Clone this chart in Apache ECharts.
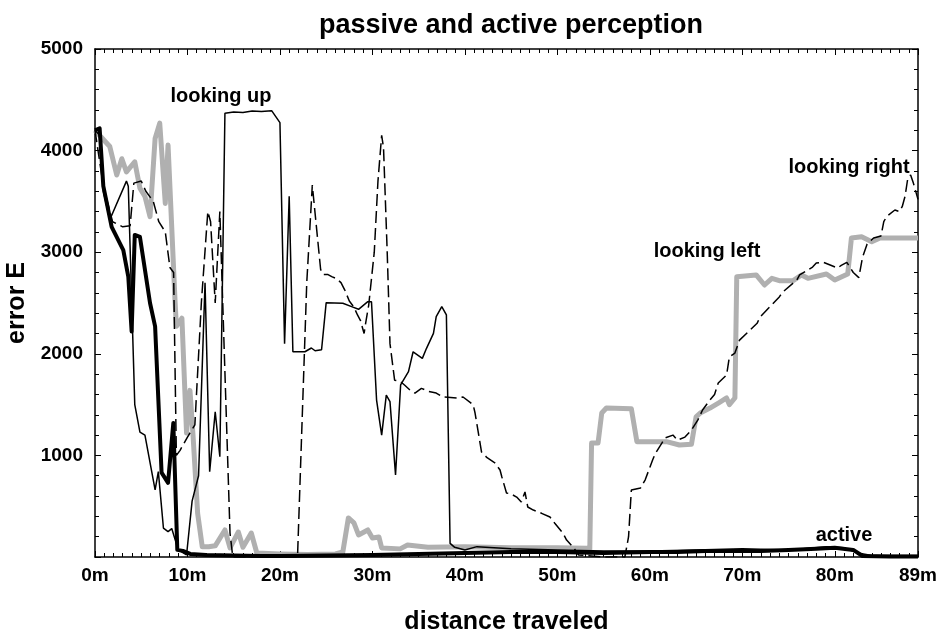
<!DOCTYPE html>
<html>
<head>
<meta charset="utf-8">
<script src="https://cdn.jsdelivr.net/npm/echarts@6/dist/echarts.min.js"></script>
<style>html,body{margin:0;padding:0;background:#fff}#c{width:940px;height:631px}</style>
</head>
<body>
<div id="c"></div>
<script>
// ---- data ----
const xTickLabels = ['0m','10m','20m','30m','40m','50m','60m','70m','80m','89m'];
const yTickLabels = ['', '1000', '2000', '3000', '4000', '5000'];

// passive, looking left (thick gray)
const leftX = [0,1.1,1.6,2.35,2.9,3.4,4.3,4.86,5.4,5.95,6.5,7.0,7.6,7.9,8.65,8.8,9.4,9.9,10.27,10.6,11.1,11.6,12.3,13.0,14.05,14.6,15.5,16.0,16.9,17.5,20,23,26,26.8,27.4,28.0,28.5,29.5,30.0,30.7,31.0,33,33.8,36,40,45,50,53.2,53.5,53.7,54.4,54.8,55.3,58.0,58.6,61.8,63.2,64.5,65.0,65.5,66.5,67.5,68.3,68.6,69.2,69.4,71.5,72.4,73.2,74,75.5,76.4,77.1,79.1,80.0,81.4,81.8,82.9,84,84.9,89];
const leftY = [4200,4090,4040,3760,3920,3790,3890,3630,3550,3350,4120,4270,3480,4055,2530,2270,2350,1220,1640,1200,430,100,100,110,266,90,246,96,236,39,30,25,30,49,384,335,217,266,187,197,89,80,118,95,100,90,90,85,39,1122,1122,1417,1466,1460,1135,1135,1102,1110,1380,1420,1466,1520,1565,1500,1565,2759,2776,2677,2743,2720,2720,2776,2743,2785,2726,2785,3140,3153,3104,3140,3140];

// passive, looking right (dashed)
const rightX = [0,0.9,1.9,3.0,3.8,4.2,5.0,5.5,6.3,6.9,7.6,8.1,8.5,8.8,9.2,10,10.8,11.5,12.2,12.5,13.0,13.5,14.6,14.9,18,21.9,22.9,23.5,24.4,24.7,25.2,25.6,26.1,26.6,27.0,27.5,28.0,28.4,28.7,29.1,29.3,29.6,30.2,30.6,31.0,31.2,31.6,31.9,32.4,33.0,33.5,34.1,34.6,35.3,36.1,36.9,37.6,39.2,39.8,40.6,40.9,41.1,41.8,42.4,43.2,43.8,44.0,44.5,45.0,45.6,46.1,46.5,46.8,47.4,48.3,49.2,49.7,50.6,51.0,51.7,52.3,55,57.3,57.7,58.0,59.0,59.5,60.3,60.6,61.3,61.6,62.5,63.0,63.8,64.5,65.2,65.7,66.5,67.0,67.4,68.3,68.6,69.2,69.7,71.6,71.9,74,74.4,75.9,76.2,77.6,78.0,78.7,79.5,80.3,80.7,81.3,82.0,82.6,83.0,83.5,84.2,85.0,85.3,85.6,86.5,87.0,87.3,87.6,87.9,88.2,88.5,89];
const rightY = [4200,3650,3300,3250,3260,3680,3700,3600,3500,3300,3200,2850,2800,1000,1050,1180,1300,2500,3400,3300,2500,3400,236,0,0,0,2700,3660,2830,2780,2780,2760,2740,2700,2630,2520,2460,2380,2330,2200,2320,2480,3000,3700,4150,4030,3000,2100,1740,1730,1690,1640,1614,1660,1630,1614,1575,1565,1575,1520,1496,1417,1033,977,930,856,787,630,620,590,541,640,492,462,430,394,335,236,167,98,20,0,0,200,660,680,760,955,1020,1120,1170,1200,1150,1180,1250,1350,1447,1545,1600,1713,1791,1968,2007,2135,2300,2360,2560,2610,2727,2776,2854,2893,2903,2874,2844,2870,2900,2800,2750,2950,3080,3140,3160,3300,3350,3415,3400,3450,3550,3730,3760,3680,3520];

// passive, looking up (thin solid)
const upX = [0,0.5,0.9,1.6,3.4,3.6,4.3,4.86,5.4,6.5,6.85,7.4,7.9,8.3,9.0,9.9,10.5,11.2,11.9,12.4,13.0,13.5,14.05,15,16,17,18,19.1,20.0,20.5,21.0,21.4,22.7,23.4,23.8,24.5,25.0,26.8,27.75,28.5,29.5,29.9,30.45,31.0,31.5,31.9,32.5,33.05,33.9,34.4,35.4,35.85,36.6,36.9,37.5,38.0,38.4,38.9,40,41.3,45,50,55,60,65,70,75,79.1,81,82.5,84,89];
const upY = [4200,4150,3600,3320,3700,3650,1500,1230,1200,660,840,285,250,280,70,20,550,800,2700,840,1430,987,4367,4380,4375,4390,4385,4393,4275,2100,3550,2020,2020,2057,2030,2040,2503,2497,2464,2438,2513,2513,1545,1200,1594,1529,807,1693,1824,2020,1955,2054,2201,2365,2464,2382,134,95,69,102,80,70,60,60,70,80,70,100,90,40,15,15];

// active (thick black)
const activeX = [0,0.5,0.9,1.8,3.06,3.6,3.96,4.3,4.86,5.95,6.5,7.2,7.9,8.47,8.9,9.5,10.3,12,15,18,20,25,30,35,40,45,50,55,60,63,66,69,72,75,78,80,82,83,86,89];
const activeY = [4200,4220,3650,3250,3020,2760,2220,3170,3150,2500,2270,830,730,1320,70,60,30,20,15,10,10,15,20,30,40,50,50,40,50,50,60,60,60,70,80,90,70,10,5,5];

const pairs = (xs, ys) => xs.map((x, i) => [x, ys[i]]);

const FONT = '"Liberation Sans", Arial, Helvetica, sans-serif';
const chart = echarts.init(document.getElementById('c'), null, {renderer: 'canvas'});

const axisCommon = {
  axisLine: {show: true, onZero: false, lineStyle: {color: '#000', width: 1.5}},
  axisTick: {show: true, inside: true, length: 6, lineStyle: {color: '#000', width: 1}},
  splitLine: {show: false},
  minorSplitLine: {show: false}
};
const minor = n => ({show: true, splitNumber: n, length: 4, lineStyle: {color: '#000', width: 1}});

chart.setOption({
  animation: false,
  backgroundColor: '#fff',
  title: {
    text: 'passive and active perception',
    left: 506, top: 7, textAlign: 'center',
    textStyle: {fontFamily: FONT, fontWeight: 'bold', fontSize: 27, color: '#000'}
  },
  grid: {left: 95, right: 22, top: 49, bottom: 74, containLabel: false, outerBoundsMode: 'none'},
  xAxis: [
    Object.assign({
      type: 'value', min: 0, max: 89, interval: 10, position: 'bottom',
      name: 'distance traveled', nameLocation: 'middle', nameGap: 53,
      nameTextStyle: {fontFamily: FONT, fontWeight: 'bold', fontSize: 25, color: '#000'},
      axisLabel: {
        margin: 9, fontFamily: FONT, fontWeight: 'bold', fontSize: 19, color: '#000',
        showMaxLabel: true,
        formatter: v => { const i = Math.round(v / 10); return v === 89 ? xTickLabels[9] : xTickLabels[i]; }
      },
      minorTick: minor(10)
    }, axisCommon),
    Object.assign({
      type: 'value', min: 0, max: 89, interval: 10, position: 'top',
      axisLabel: {show: false},
      minorTick: minor(10)
    }, axisCommon)
  ],
  yAxis: [
    Object.assign({
      type: 'value', min: 0, max: 5000, interval: 1000, position: 'left',
      name: 'error E', nameLocation: 'middle', nameGap: 62, nameRotate: 90,
      nameTextStyle: {fontFamily: FONT, fontWeight: 'bold', fontSize: 25, color: '#000'},
      axisLabel: {
        margin: 12, fontFamily: FONT, fontWeight: 'bold', fontSize: 19, color: '#000',
        formatter: v => yTickLabels[Math.round(v / 1000)]
      },
      minorTick: minor(5)
    }, axisCommon),
    Object.assign({
      type: 'value', min: 0, max: 5000, interval: 1000, position: 'right',
      axisLabel: {show: false},
      minorTick: minor(5)
    }, axisCommon)
  ],
  series: [
    {name: 'looking left', type: 'line', data: pairs(leftX, leftY), symbol: 'none',
     lineStyle: {color: '#b0b0b0', width: 5, join: 'round'}, z: 2},
    {name: 'looking right', type: 'line', data: pairs(rightX, rightY), symbol: 'none',
     lineStyle: {color: '#000', width: 1.5, type: [12, 5]}, z: 3},
    {name: 'looking up', type: 'line', data: pairs(upX, upY), symbol: 'none',
     lineStyle: {color: '#000', width: 1.5}, z: 4},
    {name: 'active', type: 'line', data: pairs(activeX, activeY), symbol: 'none',
     lineStyle: {color: '#000', width: 4, join: 'round'}, z: 5}
  ],
  graphic: [
    {type: 'text', z: 100, style: {text: 'looking up', x: 221, y: 96, align: 'center', verticalAlign: 'middle', font: 'bold 20px ' + FONT, fill: '#000'}},
    {type: 'text', z: 100, style: {text: 'looking left', x: 707, y: 251, align: 'center', verticalAlign: 'middle', font: 'bold 20px ' + FONT, fill: '#000'}},
    {type: 'text', z: 100, style: {text: 'looking right', x: 849, y: 167, align: 'center', verticalAlign: 'middle', font: 'bold 20px ' + FONT, fill: '#000'}},
    {type: 'text', z: 100, style: {text: 'active', x: 844, y: 535, align: 'center', verticalAlign: 'middle', font: 'bold 20px ' + FONT, fill: '#000'}}
  ]
});
</script>
</body>
</html>
